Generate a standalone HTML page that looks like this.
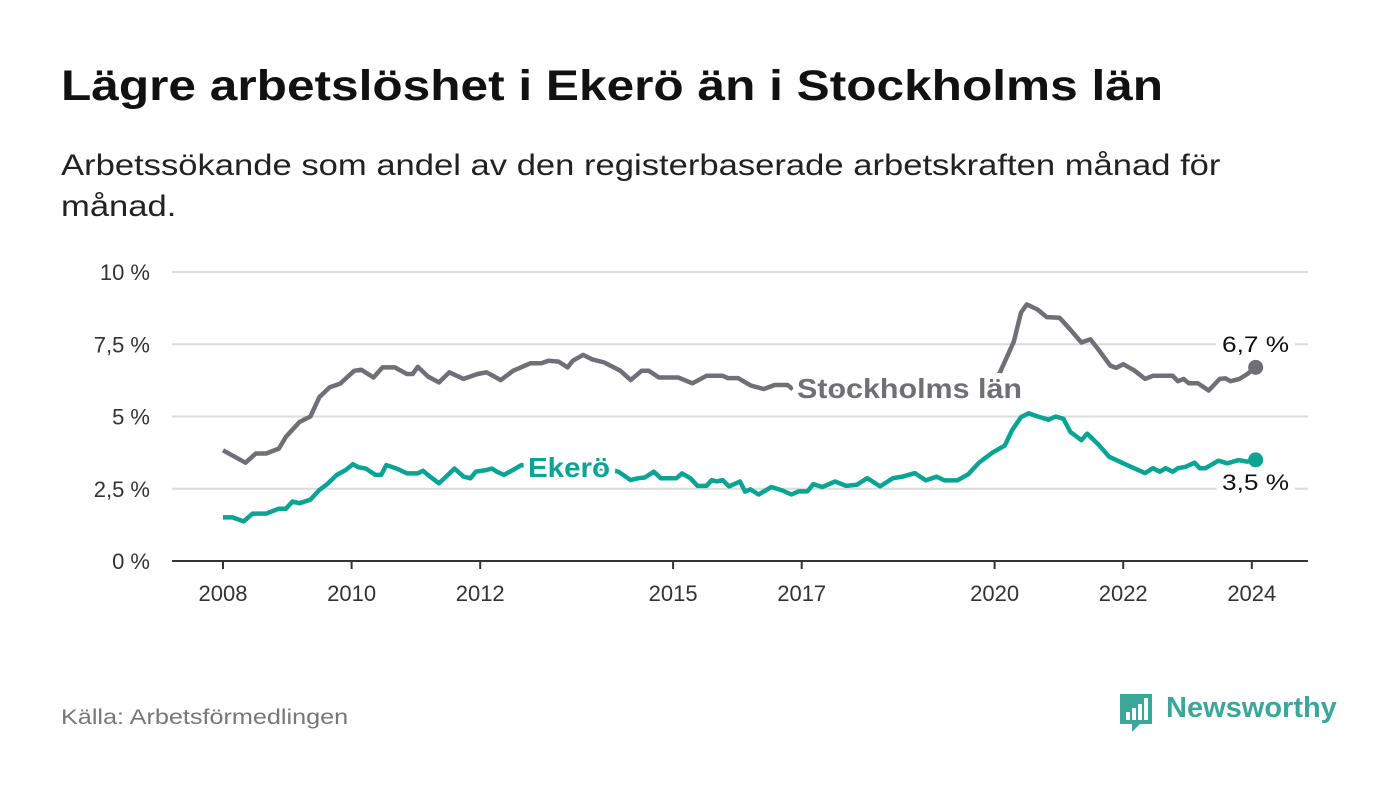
<!DOCTYPE html>
<html><head><meta charset="utf-8">
<style>
body{margin:0;background:#fff;width:1400px;height:794px;overflow:hidden;font-family:"Liberation Sans",sans-serif;}
h1{position:absolute;left:61px;top:62px;margin:0;font-size:43px;font-weight:bold;color:#111;transform:scaleX(1.153);transform-origin:left top;white-space:nowrap}
.sub{position:absolute;left:61px;top:145px;margin:0;font-size:30px;line-height:41px;color:#222;transform:scaleX(1.153);transform-origin:left top;white-space:nowrap}
.src{position:absolute;left:61px;top:706px;font-size:21px;color:#777;transform:scaleX(1.2);transform-origin:left top;white-space:nowrap}
</style></head><body>
<h1>Lägre arbetslöshet i Ekerö än i Stockholms län</h1>
<p class="sub">Arbetssökande som andel av den registerbaserade arbetskraften månad för<br>månad.</p>
<svg id="chart" width="1400" height="794" style="position:absolute;left:0;top:0"></svg>
<div class="src">Källa: Arbetsförmedlingen</div>
<div style="position:absolute;left:1118px;top:690px;width:220px;height:46px">
 <svg width="36" height="44" style="position:absolute;left:0;top:2px">
  <path d="M2 2 H34 V32 H22 L14 40 L14 32 H2 Z" fill="#3aa79a"/>
  <rect x="8" y="20" width="4" height="8" fill="#fff"/><rect x="14" y="16" width="4" height="12" fill="#fff"/><rect x="20" y="12" width="4" height="16" fill="#fff"/><rect x="26" y="6" width="4" height="22" fill="#fff"/>
 </svg>
 <span style="position:absolute;left:48px;top:2px;font-size:29px;font-weight:bold;color:#3aa79a">Newsworthy</span>
</div>
<script>
const yTicks=[0,2.5,5,7.5,10];
const yTickLabels=["0 %","2,5 %","5 %","7,5 %","10 %"];
const xTicks=[2008,2010,2012,2015,2017,2020,2022,2024];
const stoDates=[2008.0,2008.35,2008.51,2008.67,2008.87,2008.98,2009.19,2009.36,2009.5,2009.66,2009.82,2010.04,2010.15,2010.34,2010.48,2010.67,2010.86,2010.95,2011.03,2011.19,2011.36,2011.52,2011.74,2011.96,2012.1,2012.32,2012.51,2012.78,2012.95,2013.06,2013.22,2013.36,2013.44,2013.6,2013.74,2013.93,2014.18,2014.34,2014.51,2014.62,2014.78,2015.08,2015.3,2015.52,2015.77,2015.85,2016.01,2016.21,2016.41,2016.58,2016.78,2016.86,2017.3,2017.8,2018.3,2018.8,2019.3,2019.8,2020.08,2020.3,2020.41,2020.5,2020.67,2020.81,2021.01,2021.18,2021.35,2021.49,2021.63,2021.8,2021.89,2022.0,2022.17,2022.34,2022.46,2022.77,2022.85,2022.94,2023.02,2023.16,2023.33,2023.5,2023.59,2023.67,2023.81,2023.93,2024.06];
const stoValues=[3.83,3.4,3.72,3.72,3.89,4.3,4.81,5.0,5.67,6.01,6.13,6.58,6.62,6.35,6.7,6.7,6.47,6.47,6.72,6.38,6.18,6.53,6.3,6.47,6.53,6.26,6.58,6.84,6.84,6.93,6.9,6.7,6.93,7.13,6.98,6.87,6.58,6.26,6.58,6.58,6.35,6.35,6.15,6.41,6.41,6.33,6.33,6.07,5.95,6.09,6.09,5.95,6.0,5.9,5.8,5.7,5.8,6.0,6.5,7.6,8.6,8.88,8.7,8.44,8.42,8.0,7.56,7.67,7.27,6.76,6.68,6.81,6.6,6.3,6.41,6.41,6.22,6.3,6.15,6.15,5.9,6.3,6.32,6.22,6.3,6.47,6.7];
const ekeDates=[2008.0,2008.15,2008.32,2008.46,2008.67,2008.87,2008.98,2009.08,2009.19,2009.36,2009.5,2009.61,2009.77,2009.91,2010.02,2010.11,2010.22,2010.37,2010.46,2010.54,2010.7,2010.86,2011.03,2011.11,2011.22,2011.36,2011.47,2011.6,2011.74,2011.85,2011.93,2012.1,2012.18,2012.26,2012.37,2012.51,2012.64,2013.0,2013.5,2013.9,2014.15,2014.34,2014.45,2014.56,2014.7,2014.81,2015.05,2015.14,2015.27,2015.38,2015.52,2015.6,2015.68,2015.77,2015.87,2016.04,2016.12,2016.2,2016.33,2016.53,2016.7,2016.84,2016.95,2017.09,2017.18,2017.32,2017.52,2017.69,2017.86,2018.02,2018.22,2018.42,2018.57,2018.76,2018.93,2019.1,2019.22,2019.42,2019.59,2019.76,2019.96,2020.16,2020.27,2020.41,2020.53,2020.67,2020.84,2020.95,2021.07,2021.18,2021.35,2021.44,2021.61,2021.78,2021.98,2022.12,2022.34,2022.46,2022.57,2022.66,2022.77,2022.85,2022.97,2023.11,2023.19,2023.28,2023.48,2023.62,2023.79,2023.93,2024.06];
const ekeValues=[1.51,1.51,1.37,1.64,1.64,1.81,1.81,2.06,2.0,2.12,2.46,2.64,2.98,3.15,3.35,3.24,3.2,2.98,2.98,3.32,3.2,3.03,3.03,3.12,2.92,2.69,2.92,3.2,2.92,2.86,3.09,3.15,3.2,3.09,2.98,3.15,3.32,3.3,3.3,3.2,3.09,2.8,2.86,2.89,3.09,2.86,2.86,3.03,2.86,2.6,2.6,2.8,2.75,2.8,2.58,2.75,2.4,2.48,2.3,2.56,2.44,2.3,2.41,2.41,2.66,2.56,2.75,2.6,2.64,2.87,2.58,2.87,2.92,3.04,2.79,2.92,2.79,2.79,3.0,3.41,3.74,4.0,4.52,4.98,5.11,5.0,4.89,5.0,4.92,4.46,4.18,4.41,4.04,3.61,3.4,3.26,3.04,3.21,3.09,3.21,3.09,3.21,3.26,3.4,3.21,3.21,3.47,3.38,3.49,3.44,3.5];
const NS="http://www.w3.org/2000/svg";
const svg=document.getElementById('chart');
const X=t=>223+(t-2008)*64.3;
const Y=v=>561-v*28.9;
function mk(tag,attrs,parent){const e=document.createElementNS(NS,tag);for(const k in attrs)e.setAttribute(k,attrs[k]);(parent||svg).appendChild(e);return e;}
yTicks.forEach((v,i)=>{
  if(v>0){const g=mk('line',{x1:172,x2:1308,y1:Y(v),y2:Y(v),stroke:'#dcdcdc','stroke-width':2});
  
  }
  const t=mk('text',{x:150,y:Y(v)+8,'text-anchor':'end','font-size':22,fill:'#333','font-family':'Liberation Sans, sans-serif'});
  t.textContent=yTickLabels[i];
  
  
});
const ax=mk('line',{x1:172,x2:1308,y1:561,y2:561,stroke:'#333','stroke-width':2});


xTicks.forEach(yr=>{
  const tk=mk('line',{x1:X(yr),x2:X(yr),y1:561,y2:569,stroke:'#333','stroke-width':2});
  
  
  const t=mk('text',{x:X(yr),y:601,'text-anchor':'middle','font-size':22,fill:'#333','font-family':'Liberation Sans, sans-serif'});
  t.textContent=yr;
  
  
});
function line(d,v,color,name){
  const p=mk('path',{d:d.map((t,i)=>(i?'L':'M')+X(t).toFixed(1)+' '+Y(v[i]).toFixed(1)).join(''),fill:'none',stroke:color,'stroke-width':4.5,'stroke-linejoin':'round'});
  
  
  const c=mk('circle',{cx:X(d[d.length-1]),cy:Y(v[v.length-1]),r:7.5,fill:color});
  
  
}
line(stoDates,stoValues,'#706f76','stockholm-line');
line(ekeDates,ekeValues,'#0aa394','ekero-line');
function label(x,y,txt,size,color,bold,len,name){
  const t=mk('text',{x:x,y:y,'font-size':size,fill:color,'font-weight':bold?'bold':'normal',stroke:'#fff','stroke-width':12,'paint-order':'stroke','stroke-linejoin':'round','font-family':'Liberation Sans, sans-serif',textLength:len,lengthAdjust:'spacingAndGlyphs'});
  t.textContent=txt;
  
  
}
label(797,398,'Stockholms län',28,'#706f76',true,225,'stockholm-label');
label(528,477,'Ekerö',28,'#0aa394',true,82,'ekero-label');
label(1222,352,'6,7 %',22,'#111',false,67,'stockholm-value-label');
label(1222,490,'3,5 %',22,'#111',false,67,'ekero-value-label');
</script>
</body></html>
